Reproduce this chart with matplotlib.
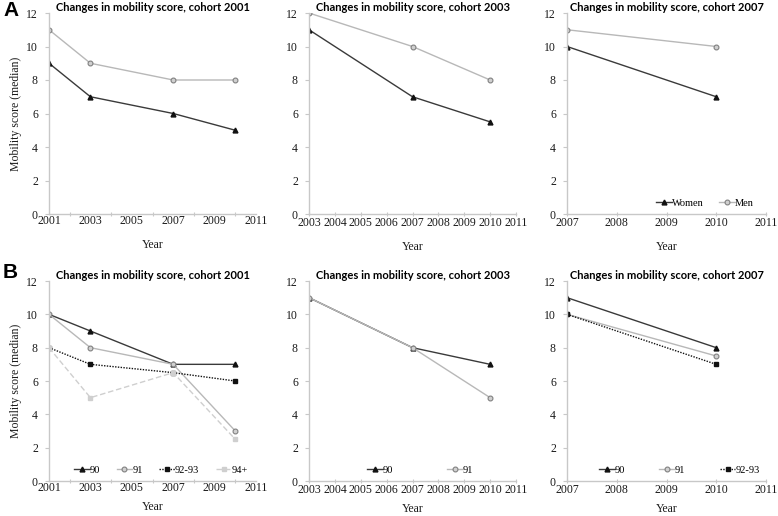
import matplotlib
matplotlib.use("Agg")
import matplotlib.pyplot as plt
from matplotlib.ticker import FixedLocator

# ---------------- data ----------------
a1_years = [2001, 2003, 2007, 2010]
a1_women = [9, 7, 6, 5]
a1_men = [11, 9, 8, 8]

a2_years = [2003, 2007, 2010]
a2_women = [11, 7, 5.5]
a2_men = [12, 10, 8]

a3_years = [2007, 2010]
a3_women = [10, 7]
a3_men = [11, 10]

b1_years = [2001, 2003, 2007, 2010]
b1_90 = [10, 9, 7, 7]
b1_91 = [10, 8, 7, 3]
b1_9293 = [8, 7, 6.5, 6]
b1_94 = [8, 5, 6.5, 2.5]

b2_years = [2003, 2007, 2010]
b2_90 = [11, 8, 7]
b2_91 = [11, 8, 5]

b3_years = [2007, 2010]
b3_90 = [11, 8]
b3_91 = [10, 7.5]
b3_9293 = [10, 7]

titles = ["Changes in mobility score, cohort 2001",
          "Changes in mobility score, cohort 2003",
          "Changes in mobility score, cohort 2007"]
yticks = [0, 2, 4, 6, 8, 10, 12]

# ---------------- styles ----------------
S_DARK = dict(color="#3a3a3a", lw=1.0, marker="^", ms=3.5, mfc="#111111", mec="#111111")
S_LIGHT = dict(color="#b8b8b8", lw=1.0, marker="o", ms=3.5, mfc="#d0d0d0", mec="#808080", mew=0.8)
S_DOT = dict(color="#111111", lw=1.0, ls=(0, (1, 1)), marker="s", ms=3.5, mfc="#111111", mec="#111111")
S_DASH = dict(color="#cfcfcf", lw=1.0, ls=(0, (4, 2)), marker="s", ms=3.5, mfc="#cfcfcf", mec="#cfcfcf")

SERIF = "Liberation Serif"
SANS = "Lato"

fig = plt.figure(figsize=(7.78, 5.16), dpi=100)

W, H = 778.0, 516.0
def axes_px(l, r, t, b):
    return fig.add_axes([l / W, 1 - b / H, (r - l) / W, (b - t) / H])

cols = [(49, 256), (309, 516), (567, 766)]
rows = [(13, 214), (281, 481)]
xlims = [(2001, 2011), (2003, 2011), (2007, 2011)]
xlabel_ticks = [list(range(2001, 2012, 2)), list(range(2003, 2012)), list(range(2007, 2012))]
xminor = [list(range(2002, 2011, 2)), [], []]

axes = []
for ri, (t, b) in enumerate(rows):
    for ci, (l, r) in enumerate(cols):
        ax = axes_px(l, r, t, b)
        ax.set_xlim(*xlims[ci])
        ax.set_ylim(0, 12)
        ax.set_yticks(yticks)
        ax.set_xticks(xlabel_ticks[ci])
        ax.xaxis.set_minor_locator(FixedLocator(xminor[ci]))
        for s in ["top", "right"]:
            ax.spines[s].set_visible(False)
        for s in ["left", "bottom"]:
            ax.spines[s].set_color("#c8c8c8")
            ax.spines[s].set_linewidth(1.0)
        ax.tick_params(axis="both", which="both", color="#c8c8c8", labelsize=8.5,
                       labelcolor="#1a1a1a", length=3, width=0.8)
        ax.tick_params(axis="x", which="major", direction="inout",
                       length=(0 if ci == 0 else 3), pad=1)
        ax.tick_params(axis="x", which="minor", direction="inout", length=3)
        ax.tick_params(axis="y", direction="out", length=3, pad=5)
        for lab in ax.get_xticklabels() + ax.get_yticklabels():
            lab.set_fontfamily(SERIF)
        ax.set_xlabel("Year", fontfamily=SERIF, fontsize=8.5,
                      labelpad=(8 if ri == 0 else 5), color="#1a1a1a")
        ax.set_title(titles[ci], fontfamily=SANS, fontsize=8, fontweight="bold", pad=-1)
        ax.patch.set_alpha(0)
        axes.append(ax)

for ax in (axes[0], axes[3]):
    ax.set_ylabel("Mobility score (median)", fontfamily=SERIF, fontsize=8.5, labelpad=3,
                  color="#1a1a1a")

leg_kw = dict(frameon=False, handlelength=1.5, handletextpad=0.0,
              borderaxespad=0.2, prop={"family": SERIF, "size": 7.5})

# Panel A
ax = axes[0]
ax.plot(a1_years, a1_women, **S_DARK, label="Women")
ax.plot(a1_years, a1_men, **S_LIGHT, label="Men")
ax = axes[1]
ax.plot(a2_years, a2_women, **S_DARK, label="Women")
ax.plot(a2_years, a2_men, **S_LIGHT, label="Men")
ax = axes[2]
ax.plot(a3_years, a3_women, **S_DARK, label="Women")
ax.plot(a3_years, a3_men, **S_LIGHT, label="Men")
ax.legend(loc="lower right", ncol=2, columnspacing=1.5,
          bbox_to_anchor=(0.97, 0.0), **leg_kw)

# Panel B
ax = axes[3]
ax.plot(b1_years, b1_90, **S_DARK, label="90")
ax.plot(b1_years, b1_91, **S_LIGHT, label="91")
ax.plot(b1_years, b1_9293, **S_DOT, label="92-93")
ax.plot(b1_years, b1_94, **S_DASH, label="94+")
ax.legend(loc="lower left", ncol=4, columnspacing=1.6,
          bbox_to_anchor=(0.09, 0.0), **leg_kw)

ax = axes[4]
ax.plot(b2_years, b2_90, **S_DARK, label="90")
ax.plot(b2_years, b2_91, **S_LIGHT, label="91")
ax.legend(loc="lower left", ncol=2, columnspacing=5.2,
          bbox_to_anchor=(0.25, 0.0), **leg_kw)

ax = axes[5]
ax.plot(b3_years, b3_90, **S_DARK, label="90")
ax.plot(b3_years, b3_91, **S_LIGHT, label="91")
ax.plot(b3_years, b3_9293, **S_DOT, label="92-93")
ax.legend(loc="lower left", ncol=3, columnspacing=3.3,
          bbox_to_anchor=(0.13, 0.0), **leg_kw)

fig.text(3 / W, 1 - 11 / H, "A", fontfamily="Liberation Sans", fontsize=15, fontweight="bold",
         va="center", ha="left")
fig.text(3 / W, 1 - 273 / H, "B", fontfamily="Liberation Sans", fontsize=15, fontweight="bold",
         va="center", ha="left")

fig.savefig("out.png", dpi=100)
